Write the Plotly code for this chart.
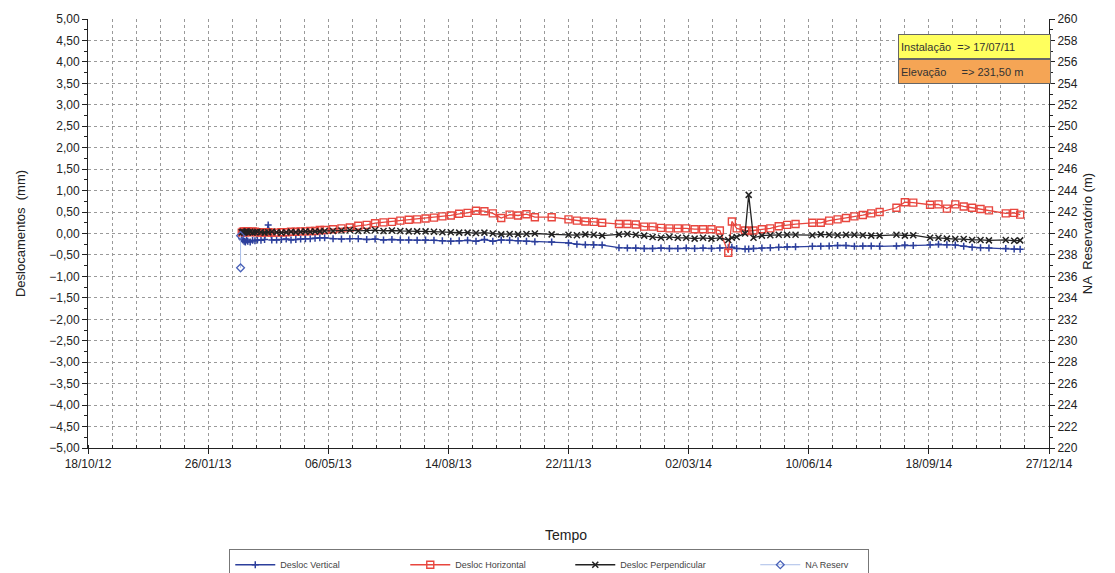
import plotly.graph_objects as go

dates = [
    "2013-02-23", "2013-02-24", "2013-02-25", "2013-02-26", "2013-02-27", "2013-02-28",
    "2013-03-02", "2013-03-04", "2013-03-06", "2013-03-08", "2013-03-11", "2013-03-14",
    "2013-03-17", "2013-03-20", "2013-03-24", "2013-03-28", "2013-04-01", "2013-04-05",
    "2013-04-09", "2013-04-13", "2013-04-17", "2013-04-21", "2013-04-25", "2013-04-29",
    "2013-05-03", "2013-05-10", "2013-05-17", "2013-05-24", "2013-05-31", "2013-06-07",
    "2013-06-14", "2013-06-21", "2013-06-28", "2013-07-05", "2013-07-12", "2013-07-19",
    "2013-07-26", "2013-08-02", "2013-08-09", "2013-08-16", "2013-08-23", "2013-08-30",
    "2013-09-06", "2013-09-13", "2013-09-20", "2013-09-27", "2013-10-04", "2013-10-11",
    "2013-10-18", "2013-10-25", "2013-11-08", "2013-11-22", "2013-11-29", "2013-12-06",
    "2013-12-13", "2013-12-20", "2014-01-03", "2014-01-10", "2014-01-17", "2014-01-24",
    "2014-01-31", "2014-02-07", "2014-02-14", "2014-02-21", "2014-02-28", "2014-03-07",
    "2014-03-14", "2014-03-21", "2014-03-28", "2014-04-04", "2014-04-07", "2014-04-11",
    "2014-04-18", "2014-04-21", "2014-04-25", "2014-05-02", "2014-05-09", "2014-05-16",
    "2014-05-23", "2014-05-30", "2014-06-13", "2014-06-20", "2014-06-27", "2014-07-04",
    "2014-07-11", "2014-07-18", "2014-07-25", "2014-08-01", "2014-08-08", "2014-08-22",
    "2014-08-29", "2014-09-05", "2014-09-19", "2014-09-26", "2014-10-03", "2014-10-10",
    "2014-10-17", "2014-10-24", "2014-10-31", "2014-11-07", "2014-11-21", "2014-11-28",
    "2014-12-03",
]

desloc_vertical = [
    -0.12, -0.15, -0.18, -0.20, -0.15, -0.18, -0.20, -0.16, -0.17, -0.15, -0.16, -0.14,
    0.20, -0.15, -0.15, -0.14, -0.13, -0.15, -0.14, -0.13, -0.12, -0.12, -0.11, -0.10,
    -0.10, -0.12, -0.13, -0.12, -0.12, -0.14, -0.13, -0.15, -0.14, -0.15, -0.15, -0.16,
    -0.15, -0.16, -0.17, -0.18, -0.17, -0.16, -0.18, -0.14, -0.18, -0.15, -0.16, -0.17,
    -0.18, -0.19, -0.20, -0.22, -0.25, -0.26, -0.26, -0.27, -0.33, -0.34, -0.34, -0.35,
    -0.35, -0.34, -0.35, -0.35, -0.34, -0.35, -0.34, -0.35, -0.34, -0.33, -0.32, -0.35,
    -0.36, -0.36, -0.35, -0.34, -0.33, -0.32, -0.31, -0.31, -0.30, -0.30, -0.29, -0.28,
    -0.28, -0.30, -0.29, -0.29, -0.30, -0.29, -0.27, -0.28, -0.26, -0.25, -0.26, -0.27,
    -0.30, -0.32, -0.33, -0.34, -0.35, -0.36, -0.37,
]

desloc_horizontal = [
    0.02, 0.04, 0.05, 0.03, 0.05, 0.04, 0.03, 0.05, 0.04, 0.03, 0.02, 0.03,
    0.03, 0.02, 0.02, 0.03, 0.03, 0.04, 0.04, 0.05, 0.05, 0.06, 0.06, 0.08,
    0.08, 0.10, 0.12, 0.14, 0.18, 0.20, 0.24, 0.26, 0.27, 0.30, 0.32, 0.33,
    0.35, 0.37, 0.40, 0.42, 0.46, 0.48, 0.53, 0.52, 0.47, 0.36, 0.44, 0.42,
    0.45, 0.38, 0.38, 0.33, 0.30, 0.28, 0.27, 0.25, 0.22, 0.22, 0.21, 0.16,
    0.16, 0.13, 0.12, 0.12, 0.12, 0.10, 0.10, 0.10, 0.07, -0.45, 0.28, 0.12,
    0.07, 0.06, 0.07, 0.10, 0.12, 0.17, 0.20, 0.22, 0.25, 0.25, 0.30, 0.33,
    0.36, 0.40, 0.43, 0.47, 0.50, 0.60, 0.73, 0.72, 0.67, 0.68, 0.58, 0.68,
    0.63, 0.60, 0.57, 0.54, 0.47, 0.48, 0.44,
]

desloc_perpendicular = [
    0.03, 0.04, 0.02, 0.03, 0.05, 0.03, 0.04, 0.02, 0.03, 0.04, 0.03, 0.02,
    0.03, 0.04, 0.03, 0.02, 0.03, 0.04, 0.03, 0.04, 0.05, 0.04, 0.05, 0.05,
    0.06, 0.06, 0.07, 0.08, 0.06, 0.07, 0.08, 0.06, 0.07, 0.06, 0.05, 0.05,
    0.05, 0.04, 0.03, 0.03, 0.02, 0.02, 0.01, 0.02, 0.00, -0.02, -0.01, -0.02,
    -0.01, 0.00, -0.02, -0.03, -0.04, -0.02, -0.03, -0.05, -0.02, -0.01, -0.03, -0.05,
    -0.08, -0.10, -0.08, -0.10, -0.10, -0.12, -0.10, -0.12, -0.10, -0.15, -0.10, -0.08,
    0.00, 0.90, -0.10, -0.05, -0.04, -0.03, -0.03, -0.03, -0.04, -0.02, -0.03, -0.04,
    -0.03, -0.03, -0.04, -0.05, -0.05, -0.03, -0.05, -0.04, -0.10, -0.10, -0.12, -0.13,
    -0.13, -0.15, -0.15, -0.16, -0.15, -0.17, -0.16,
]

na_dates = ["2013-02-22", "2013-02-22"]
na_reserv = [236.8, 239.8]

x_tick_labels = ["18/10/12", "26/01/13", "06/05/13", "14/08/13", "22/11/13",
                 "02/03/14", "10/06/14", "18/09/14", "27/12/14"]
x_tick_dates = ["2012-10-18", "2013-01-26", "2013-05-06", "2013-08-14", "2013-11-22",
                "2014-03-02", "2014-06-10", "2014-09-18", "2014-12-27"]

FONT = "Liberation Sans, Arial, sans-serif"
DAY = 86400000

fig = go.Figure()
fig.add_trace(go.Scatter(
    x=dates, y=desloc_vertical, name="Desloc Vertical", mode="lines+markers",
    legendwidth=120,
    line=dict(color="#2c3f9c", width=1.3),
    marker=dict(symbol="cross-thin", size=5, line=dict(color="#2c3f9c", width=1.5)),
))
fig.add_trace(go.Scatter(
    x=dates, y=desloc_horizontal, name="Desloc Horizontal", mode="lines+markers",
    legendwidth=110,
    line=dict(color="#e8463e", width=1.3),
    marker=dict(symbol="square-open", size=7, color="#e8463e", line=dict(width=1.4)),
))
fig.add_trace(go.Scatter(
    x=dates, y=desloc_perpendicular, name="Desloc Perpendicular", mode="lines+markers",
    legendwidth=130,
    line=dict(color="#222222", width=1.3),
    marker=dict(symbol="x-thin", size=6, line=dict(color="#222222", width=1.5)),
))
fig.add_trace(go.Scatter(
    x=na_dates, y=na_reserv, name="NA Reserv", mode="lines+markers", yaxis="y2",
    legendwidth=58,
    line=dict(color="#a9bde8", width=1),
    marker=dict(symbol="diamond-open", size=6, color="#4a62b8", line=dict(width=1.3)),
))

fig.update_layout(
    width=1115, height=573,
    paper_bgcolor="white", plot_bgcolor="white",
    margin=dict(l=88, r=66, t=19, b=125, autoexpand=False),
    separators=", ",
    font=dict(family=FONT, size=12, color="#222222"),
    showlegend=True,
    legend=dict(
        orientation="h", x=0.147, xanchor="left", y=-0.236, yanchor="top",
        bordercolor="#777777", borderwidth=1, bgcolor="white",
        font=dict(size=9, color="#444444"),
        itemwidth=40,
    ),
    xaxis=dict(
        type="date", range=["2012-10-18", "2014-12-27"], automargin=False,
        tickvals=x_tick_dates, ticktext=x_tick_labels,
        ticks="outside", ticklen=5, tickcolor="#222",
        showline=True, linecolor="#222", linewidth=1,
        showgrid=False, zeroline=False,
        tickfont=dict(size=12),
        minor=dict(tick0="2012-10-18", dtick=20 * DAY, showgrid=True,
                   gridcolor="#9a9a9a", griddash="dot", gridwidth=1,
                   ticks="inside", ticklen=3, tickcolor="#222"),
    ),
    yaxis=dict(
        range=[-5, 5], dtick=0.5, tick0=0, tickformat=".2f", automargin=False,
        ticks="outside", ticklen=5, tickcolor="#222",
        showline=True, linecolor="#222", linewidth=1,
        showgrid=True, gridcolor="#9a9a9a", griddash="dot", gridwidth=1,
        zeroline=False, tickfont=dict(size=12),
        minor=dict(dtick=0.25, ticks="outside", ticklen=3, tickcolor="#222", showgrid=False),
        title=dict(text="Deslocamentos  (mm)", font=dict(size=13), standoff=20),
    ),
    yaxis2=dict(
        range=[220, 260], dtick=2, overlaying="y", side="right", automargin=False,
        ticks="outside", ticklen=5, tickcolor="#222",
        showline=True, linecolor="#222", linewidth=1,
        showgrid=False, zeroline=False, tickfont=dict(size=12),
        minor=dict(dtick=1, ticks="outside", ticklen=3, tickcolor="#222"),
        title=dict(text="NA  Reservatório (m)", font=dict(size=13), standoff=6),
    ),
    annotations=[
        dict(text="Tempo", xref="paper", yref="paper", x=0.497, y=-0.203,
             xanchor="center", yanchor="middle", showarrow=False,
             font=dict(size=14, color="#222")),
        dict(text="Instalação  => 17/07/11", xref="paper", yref="paper",
             x=0.922, y=0.937, xanchor="center", yanchor="middle", showarrow=False,
             width=147, height=19, align="left", bgcolor="#ffff5e",
             bordercolor="#666666", borderwidth=1, borderpad=2,
             font=dict(size=11, color="#333")),
        dict(text="Elevação     => 231,50 m", xref="paper", yref="paper",
             x=0.922, y=0.877, xanchor="center", yanchor="middle", showarrow=False,
             width=147, height=19, align="left", bgcolor="#f5a555",
             bordercolor="#666666", borderwidth=1, borderpad=2,
             font=dict(size=11, color="#333")),
    ],
)

fig.write_html("out.html", config={"displayModeBar": False},
               post_script="document.body.style.margin='0px';")
